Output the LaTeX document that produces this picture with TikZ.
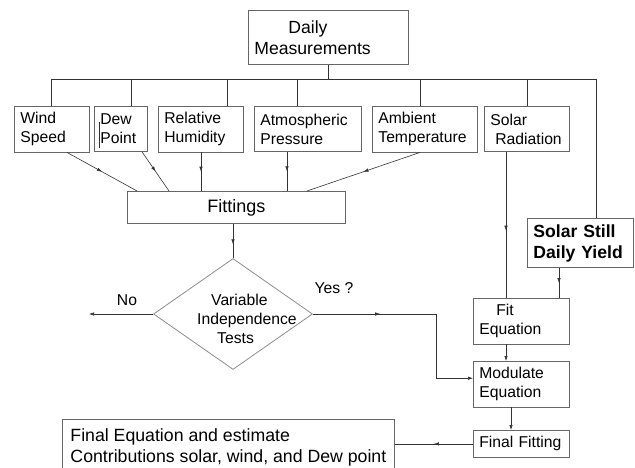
\documentclass[tikz,border=0pt]{standalone}
\usepackage{fontspec}
\setmainfont{Liberation Sans}
\usetikzlibrary{arrows,arrows.meta}
\usetikzlibrary{calc,shapes,shapes.geometric}
\usetikzlibrary{decorations.markings}
\colorlet{boxcol}{black!60}
\colorlet{diamcol}{black!45}
\colorlet{linecol}{black!80}
\tikzset{>={Latex[length=5pt,width=3.5pt]}}
\tikzstyle{box}=[draw=boxcol, line width=0.8, align=left, inner sep=6pt, anchor=north west]
\tikzstyle{link}=[line width=0.6, color=linecol]
\tikzset{flow/.style={%
          line width=0.6,
          color=linecol,
          postaction=decorate, decoration={markings, mark=at position #1 with {\arrow{Latex[length=5pt,width=3.5pt]}}}
          },
         flow/.default=.5}

\begin{document}
\begin{tikzpicture}[x=1pt,y=-1pt,font=\fontsize{15.7}{19}\selectfont]
  \def\busy{79} % height of the bus line
  \def\big{\fontsize{17.6}{21}\selectfont}
  \useasboundingbox (0,0) rectangle (635,468);

  % MEASUREMENTS
  \node[box, text width=148pt, minimum height=54pt, font=\big] (daily) at (248,10) {\hspace{34pt}Daily\\Measurements};
  \node[box, text width=63pt, minimum height=45pt] (wind) at (14,106) {Wind\\Speed};
  \node[box, text width=41pt, minimum height=45pt] (dew) at (94,106) {Dew\\Point};
  \node[box, text width=73pt, minimum height=45pt] (humid) at (158,106) {Relative\\Humidity};
  \node[box, text width=95pt, minimum height=45pt] (press) at (254,106) {Atmospheric\\Pressure};
  \node[box, text width=93pt, minimum height=45pt] (ambient) at (372,106) {Ambient\\Temperature};
  \node[box, text width=73pt, minimum height=45pt] (solar) at (484,106) {Solar\\\hspace{5pt}Radiation};
  \draw[line width=0.6,linecol] (99,122) -- (99,148);

  \draw[link] (daily.south) -- (daily.south |- 0,\busy);
  \draw[link] (51,\busy) -- (596,\busy);
  \foreach \n/\x in {wind/51, dew/131, humid/227, press/297, ambient/420, solar/527}
    \draw[link] (\x,\busy) -- (\n.north -| \x,0);

  % FITTINGS
  \node[box, align=center, text width=206pt, minimum height=32pt, font=\fontsize{18}{21}\selectfont] (fits) at (127,191) {Fittings};
  \draw[flow] ($(wind.south west)+(53,0)$) -- ($(fits.north west)+(10,0)$);
  \draw[flow] ($(dew.south west)+(48,0)$) -- ($(fits.north west)+(42,0)$);
  \draw[flow] (humid.south -| 201,0) -- (fits.north -| 201,0);
  \draw[flow] (press.south -| 287,0) -- (fits.north -| 287,0);
  \draw[flow] (ambient.south -| 420,0) -- ($(fits.north west)+(180,0)$);

  % TEST
  \node[draw=diamcol, line width=0.8, diamond, minimum width=159pt, minimum height=111pt, inner sep=0pt] (test) at (233,314) {};
  \node[anchor=west, inner sep=0pt, align=left] (testtxt) at (197,319) {\hspace{14pt}Variable\\Independence\\\hspace{20pt}Tests};
  \draw[flow=.6] (test.north |- fits.south) -- (test.north);
  \node (no) at (127,300) {No};
  \node (yes) at (334,288) {Yes ?};
  \coordinate (noend) at (89,314);
  \coordinate (yesturn) at (436,314);
  \draw[link,->] (test.west) -- (noend);

  % SOLAR STILL
  \node[box, text width=94pt, minimum height=49pt, font=\bfseries\big] (still) at (527,218) {Solar Still\\Daily Yield};
  \node[box, text width=84pt, minimum height=45pt] (fiteq) at (473,298) {\hspace{17pt}Fit\\Equation};
  \node[box, text width=84pt, minimum height=45pt] (modul) at (473,361) {Modulate\\Equation};
  \node[box, text width=84pt, minimum height=27pt] (finfit) at (473,430) {Final Fitting};
  \node[box, minimum width=332pt, minimum height=57pt, font=\fontsize{17.7}{21}\selectfont] (fineq) at (62,419) {Final Equation and estimate\\Contributions solar, wind, and Dew point};

  \draw[link] (596,\busy) -- (still.north -| 596,0);
  \draw[flow=.54] (solar.south -| 506,0) -- (fiteq.north -| 506,0);
  \draw[flow] (still.south -| 559,0) -- (fiteq.north -| 559,0);
  \draw[flow=.3,->] (test.east) -- (yesturn) |- ($(modul.west)+(0,-6)$);
  \draw[link,->] (fiteq.south -| 506,0) -- (modul.north -| 506,0);
  \draw[link,->] (modul.south -| 511,0) -- (finfit.north -| 511,0);
  \draw[flow] (finfit.west) -- (fineq.east |- finfit.west);
\end{tikzpicture}
\end{document}
